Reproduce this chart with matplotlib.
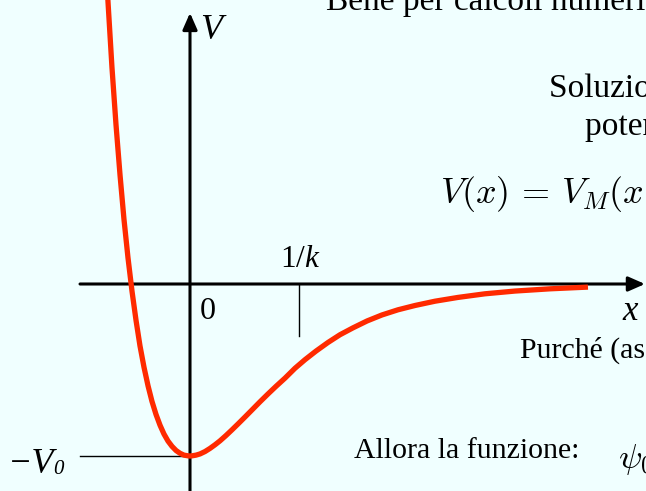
import matplotlib
matplotlib.use('Agg')
import matplotlib.pyplot as plt

plt.rcParams['mathtext.fontset'] = 'custom'
plt.rcParams['mathtext.rm'] = 'Liberation Serif'
plt.rcParams['mathtext.it'] = 'Liberation Serif:italic'

# Morse potential, x in units of 1/k, V in units of V0
x_vals = [-0.789, -0.752, -0.716, -0.679, -0.642, -0.606, -0.569, -0.532,
          -0.495, -0.459, -0.422, -0.385, -0.349, -0.312, -0.275, -0.239,
          -0.202, -0.165, -0.128, -0.092, -0.055, -0.018, 0.0, 0.018, 0.055,
          0.092, 0.138, 0.183, 0.229, 0.275, 0.330, 0.385, 0.440, 0.505,
          0.569, 0.642, 0.716, 0.789, 0.872, 0.963, 1.055, 1.156, 1.266,
          1.376, 1.495, 1.624, 1.761, 1.908, 2.064, 2.248, 2.459, 2.706,
          2.982, 3.303, 3.651]
v_vals = [2.064, 1.637, 1.260, 0.927, 0.634, 0.378, 0.153, -0.042, -0.212,
          -0.359, -0.484, -0.592, -0.682, -0.758, -0.821, -0.872, -0.913,
          -0.944, -0.968, -0.984, -0.995, -0.999, -1.000, -0.999, -0.995,
          -0.988, -0.974, -0.956, -0.935, -0.912, -0.881, -0.848, -0.814,
          -0.773, -0.732, -0.685, -0.639, -0.595, -0.547, -0.490, -0.440,
          -0.390, -0.340, -0.295, -0.255, -0.215, -0.180, -0.150, -0.125,
          -0.100, -0.078, -0.057, -0.041, -0.028, -0.018]
tick_x = 1.0      # 1/k
v_min = -1.0      # -V0

BG = '#f0ffff'
W, H = 646, 491

fig = plt.figure(figsize=(W / 100, H / 100), dpi=100, facecolor=BG)
ax = fig.add_axes([0, 0, 1, 1])
ax.set_facecolor(BG)
ax.set_axis_off()
ax.set_xlim(-190 / 109, (W - 190) / 109)
ax.set_ylim(-(H - 284) / 172, 284 / 172)

serif = 'Liberation Serif'


def put(px, py, s, size, **kw):
    fig.text(px / W, 1 - py / H, s, fontsize=size, ha='left', va='baseline', **kw)


# axes with arrows
arrow = dict(arrowstyle='-|>,head_length=0.5,head_width=0.22', lw=2.2,
             color='black', shrinkA=0, shrinkB=0, mutation_scale=20)
ax.annotate('', xy=(4.174, 0), xytext=(-1.009, 0), arrowprops=arrow)
ax.annotate('', xy=(0, 1.576), xytext=(0, -1.3), arrowprops=arrow)

# 1/k tick and -V0 guide
ax.plot([tick_x, tick_x], [0, -0.30], color='black', lw=1.0)
ax.plot([-1.009, 0], [v_min, v_min], color='black', lw=1.0)

ax.plot(x_vals, v_vals, color='#ff2a00', lw=3.8, solid_capstyle='butt',
        solid_joinstyle='round', zorder=3)

# axis labels
put(200, 39, 'V', 26, family=serif, style='italic')
put(622, 320, 'x', 25, family=serif, style='italic')
put(200, 319, '0', 23, family=serif)
put(280, 267, r'$\mathrm{1/}k$', 22.5)
put(8, 473, '\u2212V', 26, family=serif, style='italic')
put(53, 474, '0', 15, family=serif, style='italic')

# slide text
put(326, 10, 'Bene per calcoli numerici', 24, family=serif)
put(549, 97, 'Soluzione esatta', 24, family=serif)
put(585, 135, 'potenziale di Morse', 24, family=serif)
put(440, 204, r'$V(x)\,=\,V_M(x) = V_0\,(e^{-2kx}-2e^{-kx})$', 26,
    math_fontfamily='cm')
put(520, 358, 'Purché (assumendo', 21.5, family=serif)
put(354, 458, 'Allora la funzione:', 21.5, family=serif)
put(618, 468, r'$\psi_0(x)$', 25, math_fontfamily='cm')

fig.savefig('out.png', dpi=100, facecolor=BG)
